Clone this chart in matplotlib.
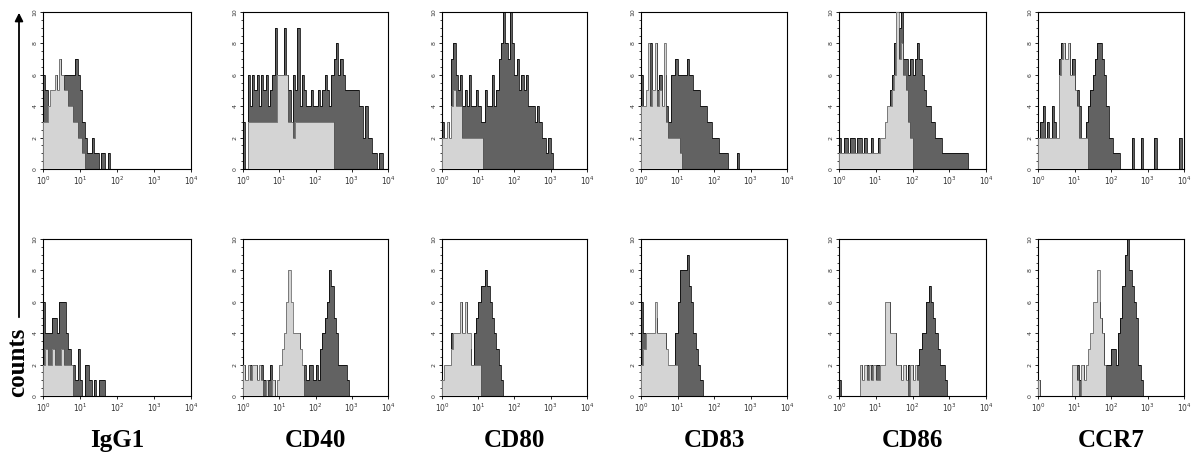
import numpy as np
import matplotlib
matplotlib.use("Agg")
import matplotlib.pyplot as plt
from matplotlib.patches import FancyArrowPatch
from matplotlib.ticker import FixedLocator, LogLocator, MultipleLocator, NullFormatter

# ---------------- data (counts per 1/16-decade channel, 10^0 .. 10^4) ----------------
markers = ["IgG1", "CD40", "CD80", "CD83", "CD86", "CCR7"]
x_tick_labels = ["$10^0$", "$10^1$", "$10^2$", "$10^3$", "$10^4$"]
y_tick_labels = ["0", "2", "4", "6", "8", "10"]

# top row (first condition)
top_light_IgG1 = [3,3,4,5,5,6,5,7,6,5,5,4,4,3,3,2,2,1]
top_dark_IgG1 = [6,5,4,5,5,6,5,7,5,6,6,6,6,6,7,6,5,3,2,1,1,2,1,1,0,1,1,0,1]
top_light_CD40 = [0,0,3,3,3,3,3,3,3,3,3,3,3,3,3,6,6,6,6,6,3,3,2,3,3,3,3,3,3,3,3,3,3,3,3,3,3,3,3,3]
top_dark_CD40 = [3,0,6,4,6,5,6,4,6,5,6,4,5,6,9,6,6,6,9,6,5,3,6,5,9,4,6,5,4,4,5,4,4,5,4,5,6,5,4,6,
                 7,8,6,7,6,5,5,5,5,5,5,4,4,2,4,2,2,1,1,0,1,1]
top_light_CD80 = [2,2,3,2,4,5,4,4,4,2,2,2,2,2,2,2,2,2]
top_dark_CD80 = [3,2,3,2,7,8,6,5,6,4,5,4,6,4,4,5,4,3,3,5,4,4,6,4,5,7,8,10,8,7,10,8,6,7,5,6,5,6,4,4,
                 4,3,4,3,2,2,1,2,1]
top_light_CD83 = [4,4,5,8,4,5,8,4,5,4,8,3,2,2,2,2,2,1]
top_dark_CD83 = [6,4,5,4,8,5,8,5,6,4,6,4,3,6,6,7,6,6,6,6,7,6,6,5,5,5,4,4,4,3,3,2,2,2,1,1,1,1,0,0,
                 0,0,1]
top_light_CD86 = [1,1,1,1,1,1,1,1,1,1,1,1,1,1,1,1,1,1,2,2,3,4,4,5,6,10,7,8,6,5,3,2]
top_dark_CD86 = [2,1,2,2,1,2,2,1,2,2,1,2,1,1,2,1,1,2,2,2,3,4,5,6,8,7,9,10,7,7,6,7,6,7,8,7,6,5,4,4,
                 3,3,2,2,2,1,1,1,1,1,1,1,1,1,1,1]
top_light_CCR7 = [2,2,2,2,2,2,2,2,2,6,7,8,7,8,6,6,5,4,2,2,2,2]
top_dark_CCR7 = [2,3,4,2,3,2,4,3,2,7,8,8,7,8,6,7,4,5,4,2,2,3,4,5,6,7,8,8,7,6,4,2,2,1,1,1,0,0,0,0,
                 0,2,0,0,0,2,0,0,0,0,0,2,0,0,0,0,0,0,0,0,0,0,2,0]

# bottom row (second condition)
bot_light_IgG1 = [2,3,2,2,3,2,2,2,3,2,2,2,2]
bot_dark_IgG1 = [6,4,4,4,5,5,4,6,6,6,4,3,2,2,1,3,1,0,2,2,1,0,1,0,1,1,1]
bot_light_CD40 = [2,1,2,1,2,2,1,2,1,0,1,0,0,1,0,1,2,3,4,6,8,6,4,4,4,3,2]
bot_dark_CD40 = [2,1,2,2,1,2,1,2,2,1,0,1,2,1,0,1,2,2,3,4,6,4,4,4,4,2,1,2,1,2,2,1,2,1,3,4,5,6,8,7,
                 5,4,2,2,2,2,1]
bot_light_CD80 = [1,2,2,2,3,4,4,4,6,4,6,4,4,2,2,2,2]
bot_dark_CD80 = [1,2,2,2,4,4,3,4,6,4,6,4,3,2,4,5,6,7,7,8,7,6,5,4,3,2,1]
bot_light_CD83 = [2,3,4,4,4,4,6,4,4,4,4,3,2,2,2,2]
bot_dark_CD83 = [6,4,3,4,2,4,5,4,4,3,4,2,2,2,2,4,6,8,8,8,9,7,6,4,3,2,1]
bot_light_CD86 = [0,0,0,0,0,0,0,0,0,2,1,2,1,2,1,2,1,1,2,2,6,6,4,4,4,2,2,1,2,1,0,2,1,2,1,0]
bot_dark_CD86 = [1,0,0,0,0,0,0,0,0,2,1,2,2,1,2,1,2,2,2,2,6,6,4,4,4,2,2,1,2,1,2,2,1,2,2,3,4,4,6,7,
                 6,5,4,3,2,2,1]
bot_light_CCR7 = [1,0,0,0,0,0,0,0,0,0,0,0,0,0,0,2,2,1,0,2,1,2,3,4,6,6,8,5,4,2]
bot_dark_CCR7 = [1,0,0,0,0,0,0,0,0,0,0,0,0,0,0,2,1,2,1,2,1,2,2,3,4,5,6,5,4,2,2,2,3,3,2,4,5,7,9,10,
                 8,7,6,5,2,1]

top_light = [top_light_IgG1, top_light_CD40, top_light_CD80, top_light_CD83, top_light_CD86, top_light_CCR7]
top_dark = [top_dark_IgG1, top_dark_CD40, top_dark_CD80, top_dark_CD83, top_dark_CD86, top_dark_CCR7]
bot_light = [bot_light_IgG1, bot_light_CD40, bot_light_CD80, bot_light_CD83, bot_light_CD86, bot_light_CCR7]
bot_dark = [bot_dark_IgG1, bot_dark_CD40, bot_dark_CD80, bot_dark_CD83, bot_dark_CD86, bot_dark_CCR7]

# ---------------- layout / style ----------------
W, H = 1196, 461
N_CH = 64
edges = np.logspace(0, 4, N_CH + 1)

def channels(vals):
    v = np.zeros(N_CH)
    v[:len(vals)] = vals
    return v

col_left = [43, 243, 442, 641, 839, 1038]
col_width = [148, 145, 145, 146, 147, 146]
row_top = [12, 239]
panel_h = 157

LIGHT = "#d4d4d4"
DARK = "#626262"

fig = plt.figure(figsize=(W / 100, H / 100), dpi=100)
fig.patch.set_facecolor("white")

for r, (lights, darks) in enumerate([(top_light, top_dark), (bot_light, bot_dark)]):
    for c in range(6):
        l = col_left[c] / W
        b = 1 - (row_top[r] + panel_h) / H
        ax = fig.add_axes([l, b, col_width[c] / W, panel_h / H])
        d = channels(darks[c])
        lt = channels(lights[c])
        ax.stairs(d, edges, fill=True, color=DARK, baseline=0, zorder=1)
        ax.stairs(d, edges, color="black", lw=0.55, baseline=0, zorder=2)
        ax.stairs(lt, edges, fill=True, color=LIGHT, baseline=0, zorder=3)
        ax.stairs(lt, edges, color="#555555", lw=0.5, baseline=0, zorder=4)
        ax.set_xscale("log")
        ax.set_xlim(1, 1e4)
        ax.set_ylim(0, 10)
        ax.xaxis.set_major_locator(FixedLocator([1, 10, 100, 1000, 10000]))
        ax.set_xticklabels(x_tick_labels, fontsize=5.5, color="#333333")
        ax.xaxis.set_minor_locator(LogLocator(base=10, subs=np.arange(2, 10)))
        ax.xaxis.set_minor_formatter(NullFormatter())
        ax.yaxis.set_major_locator(FixedLocator([0, 2, 4, 6, 8, 10]))
        ax.set_yticklabels(y_tick_labels, fontsize=4.5, color="#333333", rotation=90, va="center")
        ax.yaxis.set_minor_locator(MultipleLocator(0.5))
        ax.tick_params(which="major", length=2.5, width=0.6, pad=1.5, direction="out")
        ax.tick_params(which="minor", length=1.5, width=0.5, direction="out")
        for s in ax.spines.values():
            s.set_linewidth(0.8)
            s.set_color("black")
        if r == 1:
            xc = (col_left[c] + col_width[c] / 2) / W
            fig.text(xc, 1 - 440 / H, markers[c], ha="center", va="center",
                     fontsize=18, fontweight="bold", family="Liberation Serif")

# "counts" label with arrow
fig.text(18 / W, 1 - 362 / H, "counts", rotation=90, ha="center", va="center",
         fontsize=18, fontweight="bold", family="Liberation Serif")
arrow = FancyArrowPatch((19 / W, 1 - 320 / H), (19 / W, 1 - 10 / H),
                        transform=fig.transFigure, arrowstyle="-|>", mutation_scale=12,
                        lw=1.3, color="black")
fig.add_artist(arrow)

fig.savefig("out.png", dpi=100)
